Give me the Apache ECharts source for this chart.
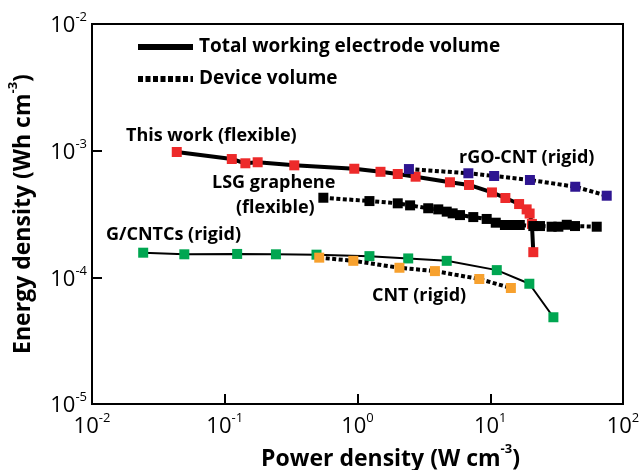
<!DOCTYPE html>
<html>
<head>
<meta charset="utf-8">
<script src="https://cdn.jsdelivr.net/npm/echarts@6/dist/echarts.min.js"></script>
<style>
  html, body { margin: 0; padding: 0; background: #fff; }
  #chart { width: 642px; height: 470px; }
</style>
</head>
<body>
<div id="chart"></div>
<script>
// tick label exponents (labels are 10^exp)
const xTickExps = [-2, -1, 0, 1, 2]
const yTickExps = [-5, -4, -3, -2]

// This work (flexible) - total working electrode volume
const thisWorkPower = [0.0435, 0.113, 0.143, 0.177, 0.334, 0.946, 1.49, 2.01, 2.74, 4.97, 6.92, 10.3, 13.0, 16.5, 18.8, 19.8, 20.6, 21.1]
const thisWorkEnergy = [9.76e-4, 8.59e-4, 7.95e-4, 8.1e-4, 7.66e-4, 7.2e-4, 6.81e-4, 6.54e-4, 6.23e-4, 5.63e-4, 5.36e-4, 4.68e-4, 4.23e-4, 3.79e-4, 3.44e-4, 3.19e-4, 2.64e-4, 1.58e-4]

// LSG graphene (flexible) - device volume
const lsgPower = [0.553, 1.23, 2.01, 2.49, 3.41, 4.06, 4.70, 5.21, 5.92, 7.45, 9.4, 11.0, 12.9, 14.9, 16.7, 21.1, 23.7, 29.0, 32.6, 37.7, 43.5, 63.4]
const lsgEnergy = [4.25e-4, 4.0e-4, 3.84e-4, 3.7e-4, 3.51e-4, 3.44e-4, 3.3e-4, 3.2e-4, 3.1e-4, 2.99e-4, 2.89e-4, 2.7e-4, 2.59e-4, 2.59e-4, 2.59e-4, 2.54e-4, 2.54e-4, 2.51e-4, 2.51e-4, 2.6e-4, 2.54e-4, 2.51e-4]

// rGO-CNT (rigid) - device volume
const rgoPower = [2.44, 6.84, 10.7, 19.9, 43.7, 75.4]
const rgoEnergy = [7.16e-4, 6.63e-4, 6.31e-4, 5.87e-4, 5.19e-4, 4.41e-4]

// G/CNTCs (rigid) - total working electrode volume
const gcntcPower = [0.0243, 0.0496, 0.124, 0.243, 0.491, 1.23, 2.41, 4.70, 11.2, 19.7, 29.9]
const gcntcEnergy = [1.565e-4, 1.52e-4, 1.53e-4, 1.52e-4, 1.51e-4, 1.47e-4, 1.41e-4, 1.35e-4, 1.14e-4, 8.9e-5, 4.84e-5]

// CNT (rigid) - device volume
const cntPower = [0.515, 0.93, 2.07, 3.83, 8.27, 14.3]
const cntEnergy = [1.43e-4, 1.35e-4, 1.19e-4, 1.12e-4, 9.7e-5, 8.24e-5]

const zip = (xs, ys) => xs.map((x, i) => [x, ys[i]])

const FONT = 'Open Sans'
const dotted = [4, 2.5]

function makeSeries(name, xs, ys, color, width, dashed, z) {
  return {
    name: name,
    type: 'line',
    data: zip(xs, ys),
    symbol: 'rect',
    symbolSize: 10,
    z: z,
    itemStyle: { color: color },
    lineStyle: { color: '#000', width: width, type: dashed ? dotted : 'solid', cap: 'butt' },
    emphasis: { disabled: true },
    animation: false
  }
}

const expLabel = (exps) => (value, index) => '{b|10}{s|' + exps[index] + '}'

const tickRich = {
  b: { fontFamily: FONT, fontSize: 22, color: '#000', verticalAlign: 'bottom', lineHeight: 26 },
  s: { fontFamily: FONT, fontSize: 13, color: '#000', verticalAlign: 'top', lineHeight: 26 }
}
const nameRich = {
  n: { fontFamily: FONT, fontWeight: 'bold', fontSize: 23, color: '#000', verticalAlign: 'bottom', lineHeight: 28 },
  ns: { fontFamily: FONT, fontWeight: 'bold', fontSize: 13, color: '#000', verticalAlign: 'top', lineHeight: 28 }
}

const annotate = (x, y, text, size) => ({
  type: 'text',
  style: { x: x, y: y, text: text, font: 'bold ' + size + 'px "Open Sans"', fill: '#000', verticalAlign: 'middle' }
})

const chart = echarts.init(document.getElementById('chart'))
chart.setOption({
  backgroundColor: '#fff',
  animation: false,
  grid: {
    left: 92, right: 19, top: 24, bottom: 66,
    outerBoundsMode: 'none',
    show: true, borderColor: '#000', borderWidth: 2
  },
  xAxis: {
    type: 'log', logBase: 10, min: 0.01, max: 100,
    name: '{n|Power density (W cm}{ns|-3}{n|)}',
    nameLocation: 'middle',
    nameGap: 38,
    nameTextStyle: { padding: [0, 0, 0, 66], rich: nameRich },
    axisLine: { lineStyle: { color: '#000', width: 2 } },
    axisTick: { inside: true, length: 10, lineStyle: { color: '#000', width: 2 } },
    splitLine: { show: false },
    minorTick: { show: false },
    axisLabel: { margin: 8, formatter: expLabel(xTickExps), rich: tickRich }
  },
  yAxis: {
    type: 'log', logBase: 10, min: 1e-5, max: 1e-2,
    name: '{n|Energy density (Wh cm}{ns|-3}{n|)}',
    nameLocation: 'middle',
    nameGap: 57,
    nameTextStyle: { rich: nameRich },
    axisLine: { lineStyle: { color: '#000', width: 2 } },
    axisTick: { inside: true, length: 10, lineStyle: { color: '#000', width: 2 } },
    splitLine: { show: false },
    minorTick: { show: false },
    axisLabel: { margin: 5, formatter: expLabel(yTickExps), rich: tickRich }
  },
  series: [
    makeSeries('G/CNTCs (rigid)', gcntcPower, gcntcEnergy, '#00a651', 2, false, 2),
    makeSeries('CNT (rigid)', cntPower, cntEnergy, '#f7a12e', 4, true, 3),
    makeSeries('This work (flexible)', thisWorkPower, thisWorkEnergy, '#ed2a2a', 4, false, 4),
    makeSeries('LSG graphene (flexible)', lsgPower, lsgEnergy, '#000000', 4, true, 5),
    makeSeries('rGO-CNT (rigid)', rgoPower, rgoEnergy, '#2e1591', 4, true, 6)
  ],
  graphic: [
    { type: 'line', shape: { x1: 138, y1: 47, x2: 193, y2: 47 }, style: { stroke: '#000', lineWidth: 6 } },
    annotate(199, 47, 'Total working electrode volume', 19),
    { type: 'line', shape: { x1: 138, y1: 79, x2: 193, y2: 79 }, style: { stroke: '#000', lineWidth: 6, lineDash: [5, 2.5] } },
    annotate(199, 79, 'Device volume', 19),
    annotate(126, 136, 'This work (flexible)', 18),
    annotate(212, 183, 'LSG graphene', 18),
    annotate(236, 208, '(flexible)', 18),
    annotate(106, 235, 'G/CNTCs (rigid)', 18),
    annotate(459, 158, 'rGO-CNT (rigid)', 18),
    annotate(372, 296, 'CNT (rigid)', 18)
  ]
})
</script>
</body>
</html>
